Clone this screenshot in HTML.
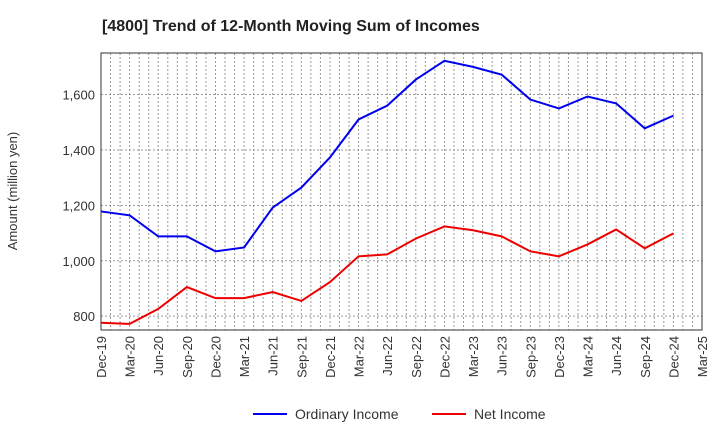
<!DOCTYPE html>
<html><head><meta charset="utf-8"><style>
body{margin:0;background:#fff;font-family:"Liberation Sans",sans-serif}
</style></head><body>
<svg id="chart" width="720" height="440" xmlns="http://www.w3.org/2000/svg" font-family="Liberation Sans, sans-serif">
<text x="102" y="31" font-size="16" font-weight="bold" fill="#222">[4800]  Trend of 12-Month Moving Sum of Incomes</text>
<text transform="translate(17,191) rotate(-90)" text-anchor="middle" font-size="13" fill="#333">Amount (million yen)</text>
<g id="grid"></g><g id="axes"></g><g id="series"></g>
<g>
<line x1="253" y1="414" x2="287" y2="414" stroke="#0000ee" stroke-width="2"/>
<text x="295" y="419" font-size="14" fill="#333">Ordinary Income</text>
<line x1="432" y1="414" x2="466" y2="414" stroke="#ee0000" stroke-width="2"/>
<text x="474" y="419" font-size="14" fill="#333">Net Income</text>
</g>
</svg>
<script>
const categories=["Dec-19","Mar-20","Jun-20","Sep-20","Dec-20","Mar-21","Jun-21","Sep-21","Dec-21","Mar-22","Jun-22","Sep-22","Dec-22","Mar-23","Jun-23","Sep-23","Dec-23","Mar-24","Jun-24","Sep-24","Dec-24","Mar-25"];
const ordinaryIncome=[1178,1164,1088,1088,1034,1048,1192,1264,1373,1510,1560,1654,1722,1700,1672,1582,1550,1593,1568,1478,1524];
const netIncome=[776,772,826,905,865,865,887,855,923,1016,1023,1080,1124,1110,1088,1034,1016,1059,1113,1045,1099];
const yTicks=[800,1000,1200,1400,1600];
const L=101,R=702,T=53,B=330,yMin=750,yMax=1750;
const NS="http://www.w3.org/2000/svg";
const xs=i=>L+(R-L)*i/(categories.length-1);
const ys=v=>B-(v-yMin)/(yMax-yMin)*(B-T);
function mk(tag,attrs,parent){const e=document.createElementNS(NS,tag);for(const k in attrs)e.setAttribute(k,attrs[k]);document.getElementById(parent).appendChild(e);return e;}
const months=(categories.length-1)*3;
for(let m=1;m<months;m++){const x=L+(R-L)*m/months;
const g=mk('line',{x1:x,x2:x,y1:T,y2:B,stroke:'#999','stroke-dasharray':'2,2','stroke-width':1},'grid');

}
yTicks.forEach(v=>{const y=ys(v);
const g=mk('line',{x1:L,x2:R,y1:y,y2:y,stroke:'#999','stroke-dasharray':'2,2'},'grid');


const t=mk('text',{x:L-6,y:y+5,'text-anchor':'end','font-size':'13',fill:'#333'},'axes');t.textContent=v.toLocaleString('en-US');

});
const box=mk('rect',{x:L,y:T,width:R-L,height:B-T,fill:'none',stroke:'#333'},'axes');


categories.forEach((c,i)=>{const x=xs(i);
const t=mk('text',{transform:`translate(${x+5},${B+6}) rotate(-90)`,'text-anchor':'end','font-size':'13',fill:'#333'},'axes');t.textContent=c;

});
function line(vals,color,name){const p=mk('polyline',{points:vals.map((v,i)=>xs(i)+','+ys(v)).join(' '),fill:'none',stroke:color,'stroke-width':2},'series');

}
line(ordinaryIncome,'#0000ee','ordinary-income-line');
line(netIncome,'#ee0000','net-income-line');
</script>
</body></html>
